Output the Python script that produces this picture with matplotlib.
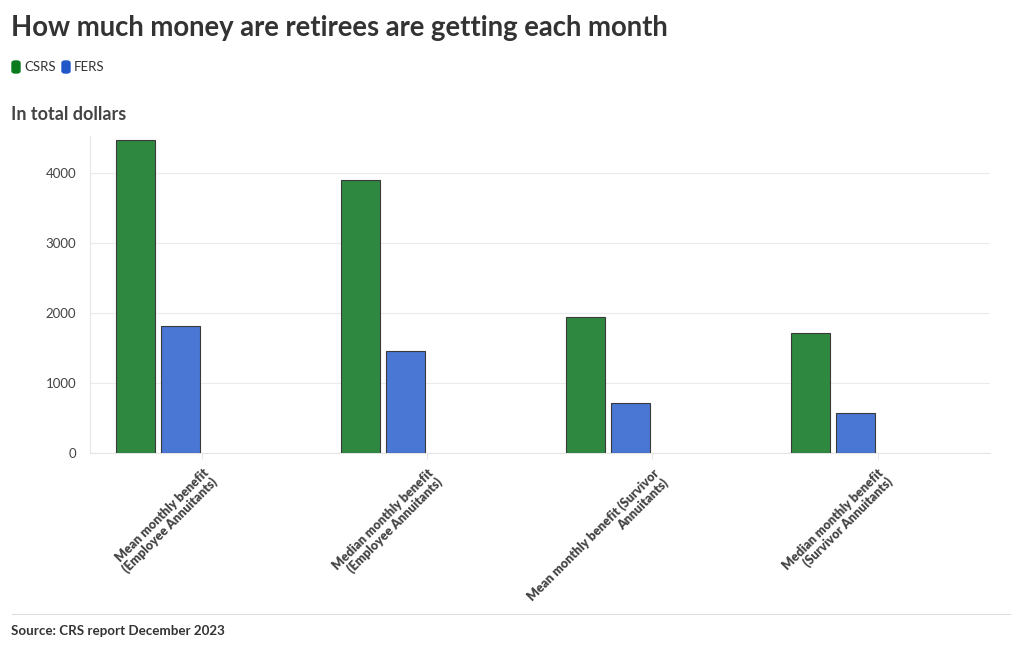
import matplotlib.pyplot as plt
import numpy as np
from matplotlib.patches import FancyBboxPatch

categories = [
    "Mean monthly benefit\n(Employee Annuitants)",
    "Median monthly benefit\n(Employee Annuitants)",
    "Mean monthly benefit (Survivor\nAnnuitants)",
    "Median monthly benefit\n(Survivor Annuitants)",
]
csrs = [4470, 3900, 1940, 1715]
fers = [1810, 1455, 715, 565]
yticks = [0, 1000, 2000, 3000, 4000]

plt.rcParams['font.family'] = ['Lato', 'DejaVu Sans']

fig = plt.figure(figsize=(10.2, 6.5), dpi=100)
ax = fig.add_axes([0.0882, 0.3031, 0.8824, 0.4877])

x = np.arange(len(categories))
w = 0.174
ax.bar(x - 0.297, csrs, width=w, color='#2e883f', edgecolor='#3a3a3a', linewidth=0.8, zorder=3)
ax.bar(x - 0.097, fers, width=w, color='#4a76d4', edgecolor='#3a3a3a', linewidth=0.8, zorder=3)

ax.set_xlim(-0.5, 3.5)
ax.set_ylim(0, 4530)
ax.set_yticks(yticks)
ax.set_yticklabels([str(v) for v in yticks], fontsize=9.5, color='#444444')
ax.grid(axis='y', color='#ebebeb', linewidth=0.8, zorder=0)
ax.set_xticks(x)
ax.set_xticklabels(categories, rotation=45, ha='right', rotation_mode='anchor',
                   fontsize=9, fontweight='heavy', color='#444444', linespacing=1.0)
ax.tick_params(axis='x', length=4, color='#e6e6e6', pad=6)
ax.tick_params(axis='y', length=0, pad=10)
for s in ['top', 'right']:
    ax.spines[s].set_visible(False)
ax.spines['left'].set_color('#e6e6e6')
ax.spines['bottom'].set_color('#e6e6e6')

# header
fig.text(0.011, 0.957, "How much money are retirees are getting each month",
         fontsize=19.8, fontweight='bold', color='#333333', va='center')
for xp, col, lab in [(12, '#0a7a1e', 'CSRS'), (62, '#2156c9', 'FERS')]:
    fig.patches.append(FancyBboxPatch((xp / 1020, 1 - 73 / 650), 8 / 1020, 12 / 650,
                                      boxstyle='round,pad=0,rounding_size=0.003',
                                      transform=fig.transFigure, color=col))
    fig.text((xp + 12) / 1020, 1 - 67 / 650, lab, fontsize=9.5, color='#333333', va='center')
fig.text(0.011, 1 - 115 / 650, "In total dollars", fontsize=13, fontweight='bold',
         color='#444444', va='center')

# footer
fig.add_artist(plt.Line2D([12 / 1020, 1010 / 1020], [1 - 614 / 650] * 2,
                          transform=fig.transFigure, color='#dddddd', linewidth=0.8))
fig.text(0.011, 1 - 631 / 650, "Source: CRS report December 2023", fontsize=9.6,
         fontweight='bold', color='#333333', va='center')

fig.savefig('out.png', dpi=100)
